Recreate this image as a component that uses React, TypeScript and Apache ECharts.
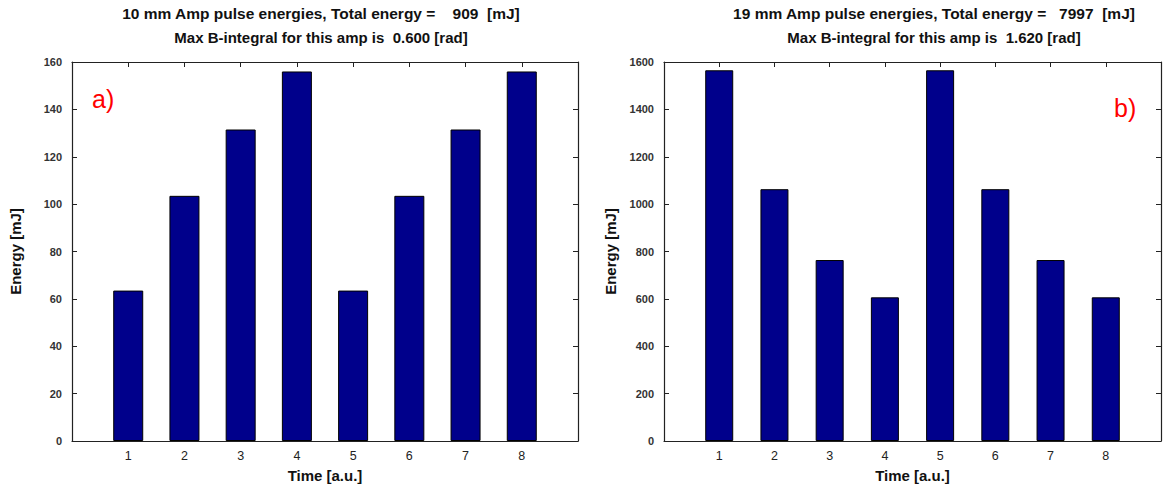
import React, { useEffect, useRef } from "react";
import * as echarts from "echarts";

const times = [1, 2, 3, 4, 5, 6, 7, 8];
const energies10mm = [63.5, 103.5, 131.5, 156, 63.5, 103.5, 131.5, 156];
const energies19mm = [1565, 1063, 764, 606.5, 1565, 1063, 764, 606.5];
const titles10 = ["10 mm Amp pulse energies, Total energy =    909  [mJ]", "Max B-integral for this amp is  0.600 [rad]"];
const titles19 = ["19 mm Amp pulse energies, Total energy =   7997  [mJ]", "Max B-integral for this amp is  1.620 [rad]"];
const panelLabels = ["a)", "b)"];

const FONT = "Liberation Sans, Arial, sans-serif";
const BAR = "#00008b";

export default function App() {
  const ref = useRef<HTMLDivElement>(null);
  useEffect(() => {
    if (!ref.current) return;
    const chart = echarts.init(ref.current, null, { renderer: "svg" });
    const grids = [
      { left: 72, top: 62, width: 506, height: 380 },
      { left: 664, top: 62, width: 497, height: 380 },
    ];
    const yMax = [160, 1600];
    const yInt = [20, 200];
    const xAxes: any[] = [];
    const yAxes: any[] = [];
    grids.forEach((g, i) => {
      const common = {
        gridIndex: i,
        type: "value",
        min: 0,
        max: 9,
        interval: 1,
        splitLine: { show: false },
        axisLine: { show: true, onZero: false, lineStyle: { color: "#222", width: 1.2 } },
        axisTick: { show: true, inside: true, length: 5, lineStyle: { color: "#222" } },
      };
      xAxes.push({
        ...common,
        position: "bottom",
        name: "Time [a.u.]",
        nameLocation: "middle",
        nameGap: 27,
        nameTextStyle: { fontFamily: FONT, fontWeight: "bold", fontSize: 15, color: "#111" },
        axisLabel: {
          fontFamily: FONT, fontSize: 12.5, color: "#222", margin: 8,
          formatter: (v: number) => (v >= 1 && v <= 8 ? String(v) : ""),
        },
      });
      xAxes.push({ ...common, position: "top", axisLabel: { show: false } });
      const ycommon = {
        gridIndex: i,
        type: "value",
        min: 0,
        max: yMax[i],
        interval: yInt[i],
        splitLine: { show: false },
        axisLine: { show: true, onZero: false, lineStyle: { color: "#222", width: 1.2 } },
        axisTick: { show: true, inside: true, length: 5, lineStyle: { color: "#222" } },
      };
      yAxes.push({
        ...ycommon,
        position: "left",
        name: "Energy [mJ]",
        nameLocation: "middle",
        nameGap: i === 0 ? 49 : 46,
        nameTextStyle: { fontFamily: FONT, fontWeight: "bold", fontSize: 15, color: "#111" },
        axisLabel: {
          fontFamily: FONT, fontSize: 11, fontWeight: "bold", color: "#333", margin: 10,
          formatter: (v: number) => String(v),
        },
      });
      yAxes.push({ ...ycommon, position: "right", axisLabel: { show: false } });
    });

    const mk = (vals: number[]) => times.map((t, k) => [t, vals[k]]);
    const titleLines = [titles10, titles19];
    const centers = [321, 934];
    const titles: any[] = [];
    titleLines.forEach((lines, i) => {
      lines.forEach((txt, j) => {
        titles.push({
          text: txt,
          left: centers[i],
          top: j === 0 ? 5 : 30,
          padding: 0,
          textAlign: "center",
          textStyle: { fontFamily: FONT, fontWeight: "bold", fontSize: j === 0 ? 15.5 : 15, color: "#111" },
        });
      });
    });

    chart.setOption({
      animation: false,
      backgroundColor: "#fff",
      title: titles,
      grid: grids,
      xAxis: xAxes,
      yAxis: yAxes,
      series: [
        {
          type: "bar", xAxisIndex: 0, yAxisIndex: 0, data: mk(energies10mm), barWidth: 30,
          itemStyle: { color: BAR, borderColor: "#000", borderWidth: 1 },
        },
        {
          type: "bar", xAxisIndex: 2, yAxisIndex: 2, data: mk(energies19mm), barWidth: 28,
          itemStyle: { color: BAR, borderColor: "#000", borderWidth: 1 },
        },
      ],
      graphic: [
        { type: "text", left: 92, top: 86, style: { text: panelLabels[0], fill: "#ff0000", fontFamily: FONT, fontSize: 25 } },
        { type: "text", left: 1114, top: 95, style: { text: panelLabels[1], fill: "#ff0000", fontFamily: FONT, fontSize: 25 } },
      ],
    });
    return () => chart.dispose();
  }, []);
  return <div ref={ref} style={{ width: 1164, height: 488, position: "absolute", left: 0, top: 0 }} />;
}
